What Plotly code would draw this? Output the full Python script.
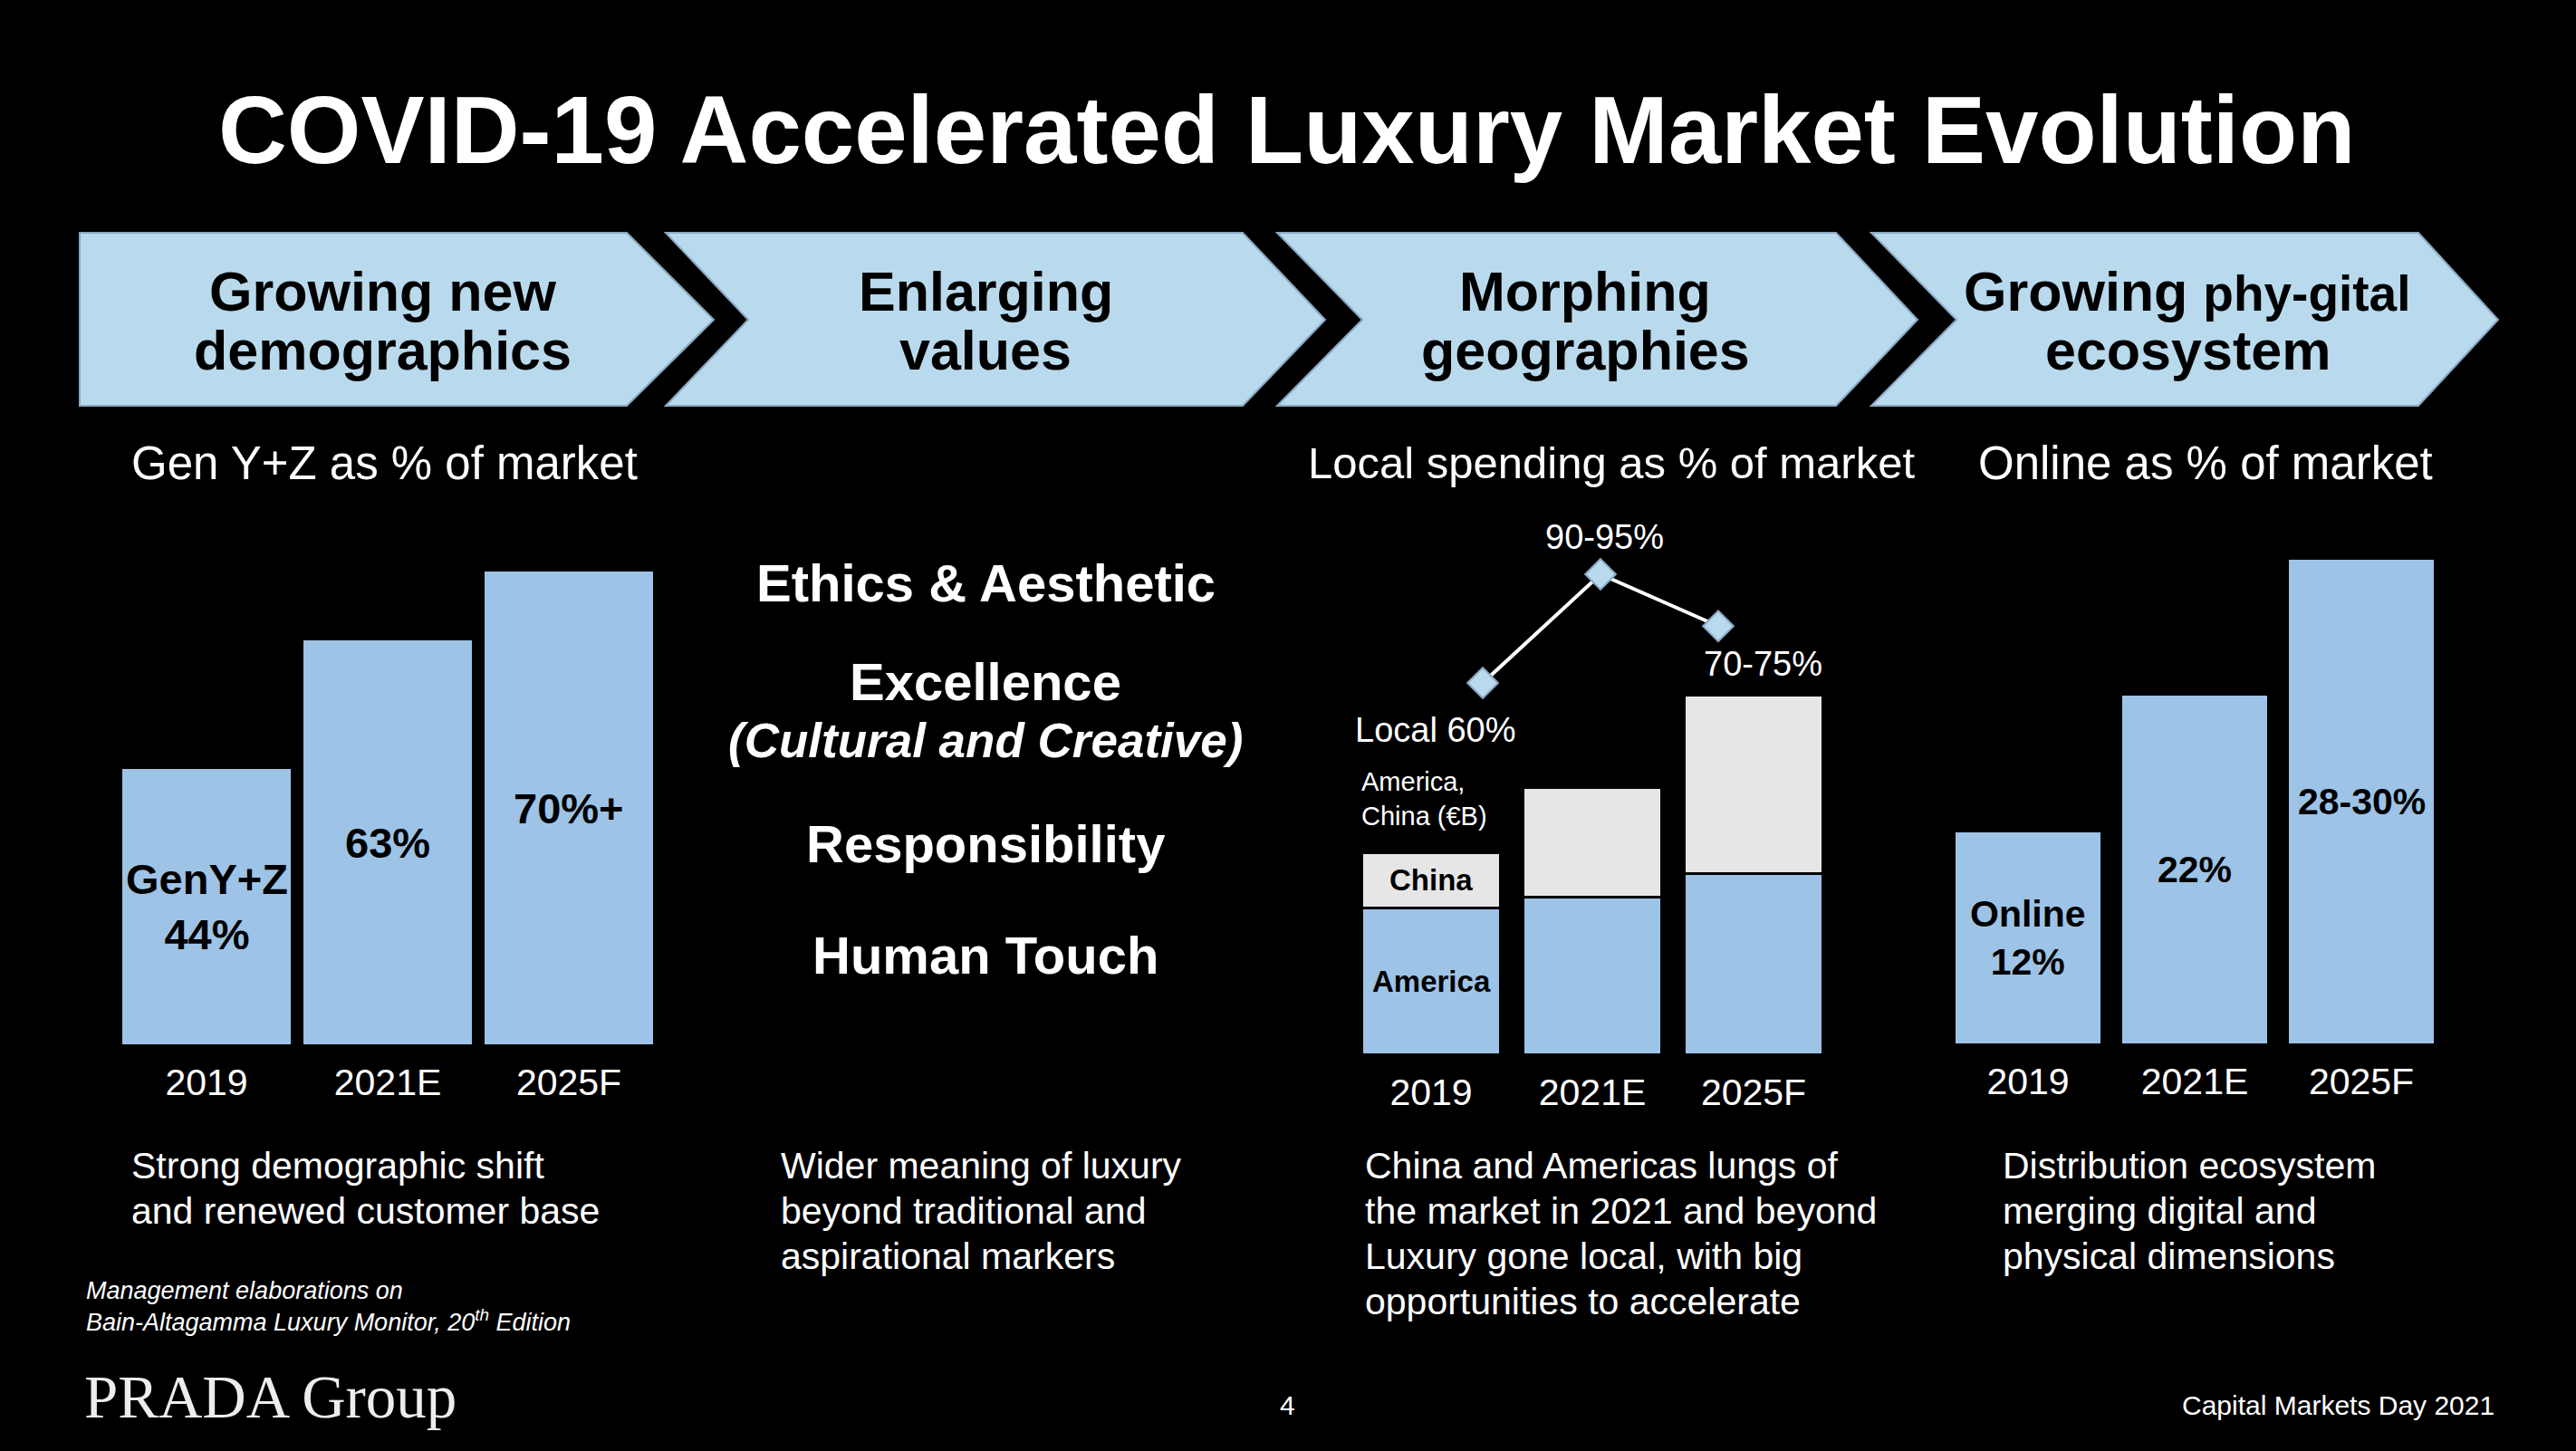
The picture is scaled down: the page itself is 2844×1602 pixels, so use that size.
import plotly.graph_objects as go

W, H = 2844, 1602

# ---------------- data ----------------
years = ["2019", "2021E", "2025F"]
year_pos = [0, 1, 2]

genz_share = [44, 64.5, 75.5]                 # Gen Y+Z as % of market (bar heights)
genz_labels = ["GenY+Z<br>44%", "63%", "70%+"]

america_eur_b = [81, 87, 100]                 # local spending, America (€B)
china_eur_b = [30.5, 60.5, 98.5]              # local spending, China (€B)

local_share = [60, 92.5, 77]                  # local spending as % of market (line)
local_labels = ["Local 60%", "90-95%", "70-75%"]

online_share = [12, 19.8, 27.5]               # online as % of market
online_labels = ["Online<br>12%", "22%", "28-30%"]

chevron_lines = [
    ["Growing new", "demographics"],
    ["Enlarging", "values"],
    ["Morphing", "geographies"],
    ["Growing <span style='font-size:55px'>phy-gital</span>", "ecosystem"],
]
value_items = ["Ethics & Aesthetic", "Excellence", "<i>(Cultural and Creative)</i>",
               "Responsibility", "Human Touch"]
value_sizes = [58, 58, 53, 58, 58]
sub_titles = ["Gen Y+Z as % of market", "Local spending as % of market", "Online as % of market"]
descriptions = [
    ["Strong demographic shift", "and renewed customer base"],
    ["Wider meaning of luxury", "beyond traditional and", "aspirational markers"],
    ["China and Americas lungs of", "the market in 2021 and beyond",
     "Luxury gone local, with big", "opportunities to accelerate"],
    ["Distribution ecosystem", "merging digital and", "physical dimensions"],
]

# ---------------- style ----------------
FONT = "Liberation Sans, Arial, sans-serif"
BAR_BLUE = "#9DC3E6"
CHINA_GREY = "#E6E6E6"
CHEV_FILL = "#B9D9EC"
CHEV_LINE = "#8BA8C2"


def px(x):
    return x / W


def py(y):
    return 1 - y / H


fig = go.Figure()

# Gen Y+Z bars
fig.add_trace(go.Bar(x=year_pos, y=genz_share, xaxis="x", yaxis="y", width=0.93,
                     marker=dict(color=BAR_BLUE, line=dict(width=0)), hoverinfo="skip"))
# Geography stacked bars
fig.add_trace(go.Bar(x=year_pos, y=america_eur_b, xaxis="x2", yaxis="y2", width=0.86,
                     marker=dict(color=BAR_BLUE, line=dict(color="black", width=3))))
fig.add_trace(go.Bar(x=year_pos, y=china_eur_b, xaxis="x2", yaxis="y2", width=0.86,
                     marker=dict(color=CHINA_GREY, line=dict(color="black", width=3))))
# Local share line
fig.add_trace(go.Scatter(x=year_pos, y=local_share, xaxis="x3", yaxis="y3", mode="lines+markers",
                         line=dict(color="white", width=4),
                         marker=dict(symbol="diamond", size=26, color=CHEV_FILL,
                                     line=dict(color=CHEV_LINE, width=2))))
# Online bars
fig.add_trace(go.Bar(x=year_pos, y=online_share, xaxis="x4", yaxis="y4", width=0.87,
                     marker=dict(color=BAR_BLUE, line=dict(width=0))))

xcommon = dict(type="linear", range=[-0.5, 2.5], tickmode="array", tickvals=year_pos,
               ticktext=years, showgrid=False, zeroline=False, showline=False, ticks="",
               tickfont=dict(family=FONT, size=41, color="white"), ticklabelstandoff=14,
               fixedrange=True, automargin=False)
ycommon = dict(type="linear", visible=False, showgrid=False, zeroline=False,
               fixedrange=True, automargin=False)

fig.update_layout(
    width=W, height=H, margin=dict(l=0, r=0, t=0, b=0, pad=0, autoexpand=False),
    paper_bgcolor="black", plot_bgcolor="rgba(0,0,0,0)", showlegend=False,
    barmode="stack",
    xaxis=dict(domain=[px(128), px(728)], anchor="y", **xcommon),
    yaxis=dict(domain=[py(1153), py(600)], range=[0, 80], anchor="x", **ycommon),
    xaxis2=dict(domain=[px(1491), px(2025)], anchor="y2", **xcommon),
    yaxis2=dict(domain=[py(1164), py(700)], range=[0, 232], anchor="x2", **ycommon),
    xaxis3=dict(domain=[px(1572), px(1962)], anchor="y3", **dict(xcommon, showticklabels=False)),
    yaxis3=dict(domain=[py(860), py(560)], range=[31.3, 112.55], anchor="x3", **ycommon),
    xaxis4=dict(domain=[px(2147), px(2699)], anchor="y4", **xcommon),
    yaxis4=dict(domain=[py(1152), py(560)], range=[0, 30.5], anchor="x4", **ycommon),
)

# ---------------- chevrons ----------------
chevrons = [
    [(88, 257), (692, 257), (788, 353), (692, 448), (88, 448)],
    [(735, 257), (1372, 257), (1463, 353), (1372, 448), (735, 448), (826, 353)],
    [(1410, 257), (2027, 257), (2117, 353), (2027, 448), (1410, 448), (1504, 353)],
    [(2066, 257), (2670, 257), (2758, 353), (2670, 448), (2066, 448), (2160, 353)],
]
for pts in chevrons:
    path = "M " + " L ".join(f"{px(x):.5f},{py(y):.5f}" for x, y in pts) + " Z"
    fig.add_shape(type="path", path=path, xref="paper", yref="paper",
                  fillcolor=CHEV_FILL, line=dict(color=CHEV_LINE, width=2), layer="below")

annotations = []


def txt(text, x, y, size, color="white", bold=False, xanchor="center", family=FONT):
    t = f"<b>{text}</b>" if bold else text
    annotations.append(dict(text=t, x=px(x), y=py(y), xref="paper", yref="paper",
                            xanchor=xanchor, yanchor="middle", showarrow=False,
                            font=dict(family=family, size=size, color=color)))


# title
txt("COVID-19 Accelerated Luxury Market Evolution", 1420, 143, 105, bold=True)

# chevron titles
chev_cx = [423, 1088, 1750, 2415]
for cx, lines in zip(chev_cx, chevron_lines):
    txt(lines[0], cx, 322, 61, color="black", bold=True)
    txt(lines[1], cx, 387, 61, color="black", bold=True)

# sub titles
for sx, s, fs in zip([425, 1779, 2435], sub_titles, [51, 49, 51]):
    txt(s, sx, 511, fs)

# values column
for vy, v, fs in zip([643, 752, 817, 931, 1054], value_items, value_sizes):
    txt(v, 1088, vy, fs, bold=True)

# descriptions
for dx, lines in zip([143, 860, 1505, 2209], descriptions):
    for i, line in enumerate(lines):
        txt(line, dx, 1287 + 50 * i, 41, xanchor="left")

# source
txt("<i>Management elaborations on</i>", 93, 1425, 27, xanchor="left")
txt("<i>Bain-Altagamma Luxury Monitor, 20<sup>th</sup> Edition</i>", 93, 1458, 27, xanchor="left")

# logo and footer
txt("PRADA Group", 91, 1542, 67, color="#EDEDED", xanchor="left", family="Liberation Serif, serif")
txt("4", 1421, 1551, 30)
txt("Capital Markets Day 2021", 2756, 1551, 30, xanchor="right")

# bar labels (data-anchored)
for xp, v, lab in zip(year_pos, genz_share, genz_labels):
    annotations.append(dict(text=f"<b>{lab}</b>", x=xp, y=v / 2, xref="x", yref="y",
                            showarrow=False, font=dict(family=FONT, size=47, color="black")))
for xp, v, lab in zip(year_pos, online_share, online_labels):
    annotations.append(dict(text=f"<b>{lab}</b>", x=xp, y=v / 2, xref="x4", yref="y4",
                            showarrow=False, font=dict(family=FONT, size=41, color="black")))

annotations.append(dict(text="<b>China</b>", x=year_pos[0], y=america_eur_b[0] + china_eur_b[0] / 2,
                        xref="x2", yref="y2", showarrow=False,
                        font=dict(family=FONT, size=33, color="black")))
annotations.append(dict(text="<b>America</b>", x=year_pos[0], y=america_eur_b[0] / 2,
                        xref="x2", yref="y2", showarrow=False,
                        font=dict(family=FONT, size=33, color="black")))
annotations.append(dict(text="America,<br>China (€B)", x=year_pos[0], y=america_eur_b[0] + china_eur_b[0],
                        xref="x2", yref="y2", showarrow=False, xanchor="left", yanchor="bottom",
                        xshift=-79, yshift=22, align="left",
                        font=dict(family=FONT, size=29, color="white")))

# line labels
line_label_shift = [(-53, -52), (4, 41), (49, -42)]
for xp, v, lab, (xs, ys) in zip(year_pos, local_share, local_labels, line_label_shift):
    annotations.append(dict(text=lab, x=xp, y=v, xref="x3", yref="y3", showarrow=False,
                            xshift=xs, yshift=ys,
                            font=dict(family=FONT, size=38, color="white")))

fig.update_layout(annotations=annotations)

fig.write_html("out.html")
